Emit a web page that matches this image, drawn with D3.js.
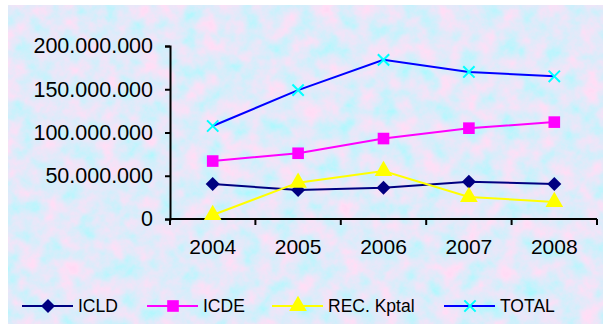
<!DOCTYPE html>
<html>
<head>
<meta charset="utf-8">
<script src="https://cdn.jsdelivr.net/npm/d3@7"></script>
<style>
  body { margin: 0; background: #fff; }
  svg { display: block; font-family: "Liberation Sans", Arial, sans-serif; }
</style>
</head>
<body>
<div id="canvas"></div>
<script>
"use strict"

/* data */
let years = ["2004", "2005", "2006", "2007", "2008"];
let icld = [40500000, 33500000, 36000000, 43000000, 40500000];
let icde = [67000000, 76000000, 93000000, 105000000, 112000000];
let recKptal = [4600000, 42000000, 55500000, 25500000, 19700000];
let total = [107500000, 149000000, 184000000, 170000000, 165000000];
let yTicks = [0, 50000000, 100000000, 150000000, 200000000];

let seriesNames = ["ICLD", "ICDE", "REC. Kptal", "TOTAL"];
let seriesValues = [icld, icde, recKptal, total];

let drawing = d3.select("#canvas")
    .append("svg")
    .attr("width", 603)
    .attr("height", 324);

/* mottled background */
let defs = drawing.append("defs");
let texture = defs.append("filter")
    .attr("id", "paper")
    .attr("x", 0).attr("y", 0).attr("width", "100%").attr("height", "100%");
texture.append("feTurbulence")
    .attr("type", "fractalNoise")
    .attr("baseFrequency", 0.05)
    .attr("numOctaves", 5)
    .attr("seed", 7);
texture.append("feColorMatrix")
    .attr("type", "matrix")
    .attr("values", "0.85 0 0 0 0.33  -0.3 0 0 0 0.97  -0.1 0 0 0 1.0  0 0 0 0 1");

drawing.append("rect")
    .attr("x", 8).attr("y", 5)
    .attr("width", 595).attr("height", 319)
    .attr("filter", "url(#paper)");

/* scales */
let x = d3.scaleBand().domain(years).range([170, 597]);
let y = d3.scaleLinear().domain([0, 200000000]).range([219, 46]);

let locale = d3.formatLocale({ decimal: ",", thousands: ".", grouping: [3], currency: ["", ""] });
let fmt = locale.format(",");

/* y axis */
let yAxis = drawing.append("g")
    .attr("transform", "translate(170,0)")
    .call(d3.axisLeft(y).tickValues(yTicks).tickFormat(fmt).tickSize(5).tickPadding(12));
yAxis.select(".domain").attr("stroke", "#000").attr("stroke-width", 2);
yAxis.selectAll(".tick line").attr("stroke", "#000").attr("stroke-width", 2);
yAxis.selectAll("text").attr("font-size", 21.5).attr("fill", "#000").attr("font-family", "Liberation Sans, Arial, sans-serif");

/* x axis: labels at band centres, ticks at band edges */
let xAxis = drawing.append("g")
    .attr("transform", "translate(0,219)")
    .call(d3.axisBottom(x).tickSize(0).tickPadding(20));
xAxis.select(".domain").remove();
xAxis.selectAll("text").attr("font-size", 21).attr("fill", "#000").attr("font-family", "Liberation Sans, Arial, sans-serif");

drawing.append("line")
    .attr("x1", 170).attr("x2", 597)
    .attr("y1", 219).attr("y2", 219)
    .attr("stroke", "#000").attr("stroke-width", 2);

let edges = years.map(d => x(d)).concat([x.range()[1]]);
drawing.selectAll(".xtick")
    .data(edges)
    .join("line")
    .attr("class", "xtick")
    .attr("x1", d => d).attr("x2", d => d)
    .attr("y1", 219).attr("y2", 225)
    .attr("stroke", "#000").attr("stroke-width", 2);

/* series styles */
let lineColors = ["#000080", "#ff00ff", "#ffff00", "#0000ff"];
let markColors = ["#000080", "#ff00ff", "#ffff00", "#00ffff"];
let symbols = [d3.symbolDiamond2, d3.symbolSquare, d3.symbolTriangle, d3.symbolX];
let symbolSizes = [125, 135, 135, 85];

let line = d3.line()
    .x((d, i) => x(years[i]) + x.bandwidth() / 2)
    .y(d => y(d));

function marker(sel, k) {
    let sym = d3.symbol().type(symbols[k]).size(symbolSizes[k]);
    if (k === 3) {
        sel.attr("d", sym).attr("fill", "none")
            .attr("stroke", markColors[k]).attr("stroke-width", 2);
    } else {
        sel.attr("d", sym).attr("fill", markColors[k]);
    }
}

seriesValues.forEach((vals, k) => {
    drawing.append("path")
        .attr("d", line(vals))
        .attr("fill", "none")
        .attr("stroke", lineColors[k])
        .attr("stroke-width", 2);
    drawing.selectAll(".m" + k)
        .data(vals)
        .join("path")
        .attr("class", "m" + k)
        .attr("transform", (d, i) => "translate(" + (x(years[i]) + x.bandwidth() / 2) + "," + y(d) + ")")
        .call(marker, k);
});

/* legend */
let legendX = [22, 147, 272, 444];
let legend = drawing.selectAll(".legend")
    .data(seriesNames)
    .join("g")
    .attr("class", "legend")
    .attr("transform", (d, k) => "translate(" + legendX[k] + ",306)");

legend.append("line")
    .attr("x1", 0).attr("x2", 51)
    .attr("y1", 0).attr("y2", 0)
    .attr("stroke", (d, k) => lineColors[k])
    .attr("stroke-width", 2);

legend.append("path")
    .attr("transform", "translate(26,0)")
    .each(function (d, k) { d3.select(this).call(marker, k); });

legend.append("text")
    .attr("x", 56)
    .attr("y", 0)
    .attr("dy", "0.36em")
    .attr("font-size", 17.5)
    .attr("fill", "#000")
    .text(d => d);
</script>
</body>
</html>
